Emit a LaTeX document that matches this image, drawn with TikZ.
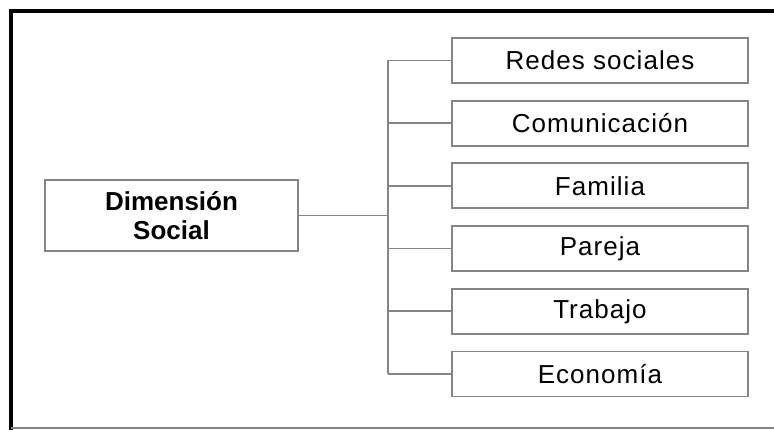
\documentclass[tikz,border=0pt]{standalone}
\usepackage{fontspec}
\setmainfont{Liberation Sans}
\usetikzlibrary{positioning}
\definecolor{linegray}{HTML}{858585}
\tikzset{
  item/.style={draw=linegray, line width=1.8pt, minimum width=296pt, minimum height=45pt, inner sep=0pt, font=\fontsize{26}{30}\selectfont\addfontfeatures{LetterSpace=4}},
  root/.style={draw=linegray, line width=1.8pt, minimum width=253pt, minimum height=71pt, inner sep=0pt, align=center, font=\fontsize{26}{29}\selectfont\bfseries},
  link/.style={draw=linegray, line width=1.6pt},
  frame/.style={line width=4.5pt, black}
}
\begin{document}
\begin{tikzpicture}[x=1pt, y=-1pt]
  \useasboundingbox (0,0) rectangle (774,430);
  % outer frame
  \draw[frame] (11,432) -- (11,11) -- (776,11);
  \draw[link, line width=1.4pt] (11,428) -- (776,428);
  % root
  \node[root] (dim) at (171.5,215.5) {Dimensión\\Social};
  % items
  \node[item] (i1) at (600,60.5) {Redes sociales};
  \node[item] (i2) at (600,123.2) {Comunicación};
  \node[item] (i3) at (600,185.9) {Familia};
  \node[item] (i4) at (600,248.6) {Pareja};
  \node[item] (i5) at (600,311.3) {Trabajo};
  \node[item] (i6) at (600,374) {Economía};
  % connectors
  \coordinate (jn) at (388,215.5);
  \draw[link] (dim.east) -- (jn);
  \draw[link] (jn |- i1.west) -- (jn |- i6.west);
  \foreach \i in {1,...,6}{\draw[link] (jn |- i\i.west) -- (i\i.west);}
\end{tikzpicture}
\end{document}
